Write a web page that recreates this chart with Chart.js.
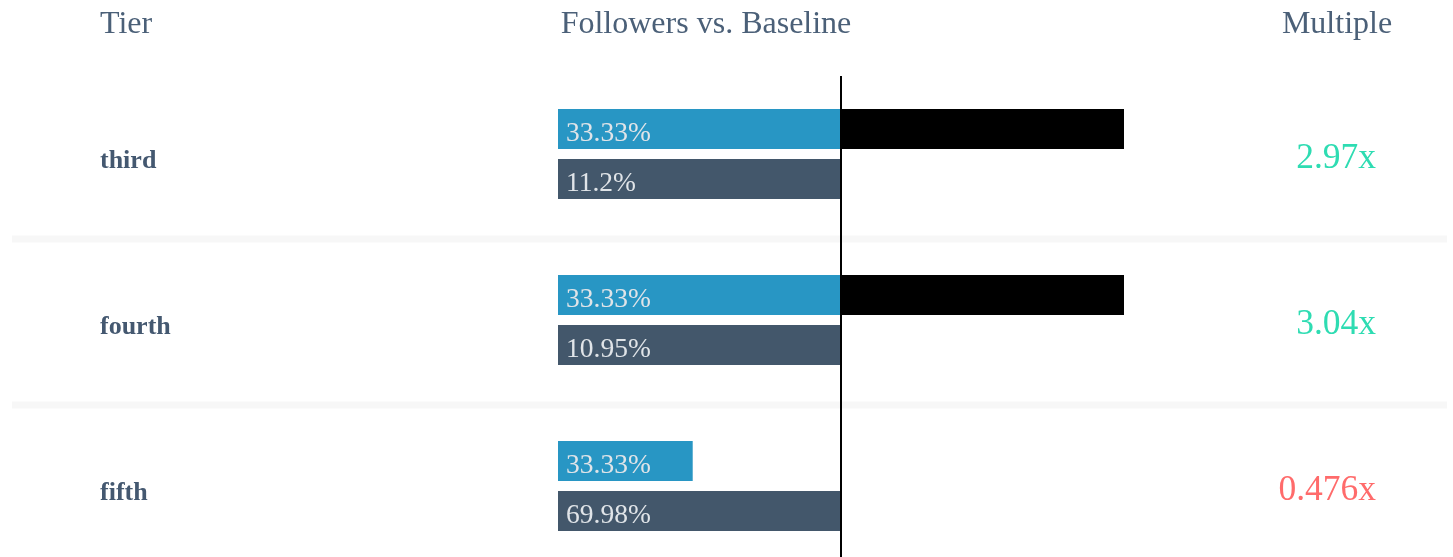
<!DOCTYPE html>
<html>
<head>
<meta charset="utf-8">
<script src="https://cdn.jsdelivr.net/npm/chart.js@4.4.1/dist/chart.umd.min.js"></script>
<style>
  html, body { margin: 0; background: #fff; overflow: hidden; }
  /* a little taller than the window: the last row runs off the bottom edge */
  #wrap { width: 1453px; height: 569px; position: relative; }
</style>
</head>
<body>
<div id="wrap"><canvas id="myChart"></canvas></div>
<script>
const tiers = ['third', 'fourth', 'fifth'];
const followerPct = ['33.33%', '33.33%', '33.33%'];
const baselinePct = ['11.2%', '10.95%', '69.98%'];
const multiples = [2.97, 3.04, 0.476];
const multipleLabels = ['2.97x', '3.04x', '0.476x'];
const headers = ['Tier', 'Followers vs. Baseline', 'Multiple'];

const SERIF = '"Liberation Serif", "Times New Roman", serif';
const CAP = 2; // bar runs out of room at 2x the baseline

// follower bar is drawn relative to the baseline (baseline = 1)
const followerBars = multiples.map(m => [0, Math.min(m, 1)]);
const overflowBars = multiples.map(m => m > 1 ? [1, Math.min(m, CAP)] : null);
const baselineBars = multiples.map(() => [0, 1]);

const textPlugin = {
  id: 'tableText',
  beforeDatasetsDraw(chart) {
    const ctx = chart.ctx, y = chart.scales.y;
    ctx.save();
    ctx.fillStyle = '#f7f7f7';
    for (let i = 0; i < tiers.length - 1; i++) {
      const mid = (y.getPixelForValue(i) + y.getPixelForValue(i + 1)) / 2 + 2;
      ctx.fillRect(12, mid - 3.5, 1435, 7);
    }
    ctx.restore();
  },
  afterDatasetsDraw(chart) {
    const ctx = chart.ctx, x = chart.scales.x, y = chart.scales.y;
    ctx.save();
    // baseline axis line
    const bx = x.getPixelForValue(1);
    ctx.strokeStyle = '#000';
    ctx.lineWidth = 2;
    ctx.beginPath();
    ctx.moveTo(bx, 76);
    ctx.lineTo(bx, chart.height);
    ctx.stroke();

    // headers
    ctx.fillStyle = '#4b6078';
    ctx.font = '32px ' + SERIF;
    ctx.textBaseline = 'alphabetic';
    ctx.textAlign = 'left';
    ctx.fillText(headers[0], 100, 33);
    ctx.textAlign = 'center';
    ctx.fillText(headers[1], 706, 33);
    ctx.fillText(headers[2], 1337, 33);

    // bar labels
    ctx.textAlign = 'left';
    ctx.font = '27.5px ' + SERIF;
    ctx.fillStyle = '#e0e4e8';
    const fMeta = chart.getDatasetMeta(0), bMeta = chart.getDatasetMeta(2);
    tiers.forEach((t, i) => {
      const fe = fMeta.data[i], be = bMeta.data[i];
      ctx.fillText(followerPct[i], Math.min(fe.x, fe.base) + 8, fe.y + 12);
      ctx.fillText(baselinePct[i], Math.min(be.x, be.base) + 8, be.y + 12);
    });

    // tier names and multiples
    tiers.forEach((t, i) => {
      const cy = y.getPixelForValue(i) + 14;
      ctx.textAlign = 'left';
      ctx.font = 'bold 26px ' + SERIF;
      ctx.fillStyle = '#445870';
      ctx.fillText(t, 100, cy);
      ctx.textAlign = 'right';
      ctx.font = '35.5px ' + SERIF;
      ctx.fillStyle = multiples[i] >= 1 ? '#2edcb2' : '#ff6b6b';
      ctx.fillText(multipleLabels[i], 1376, cy);
    });
    ctx.restore();
  }
};

const data = {
  labels: tiers,
  datasets: [
    { label: 'Followers', data: followerBars, backgroundColor: '#2896c4', stack: 'f' },
    { label: 'Overflow', data: overflowBars, backgroundColor: '#000000', stack: 'f' },
    { label: 'Baseline', data: baselineBars, backgroundColor: '#43576b', stack: 'b' }
  ]
};

const config = {
  type: 'bar',
  data: data,
  options: {
    indexAxis: 'y',
    responsive: true,
    maintainAspectRatio: false,
    animation: false,
    layout: { padding: { left: 558, right: 329, top: 71, bottom: 0 } },
    datasets: { bar: { categoryPercentage: 0.602, barPercentage: 0.8, borderWidth: 0 } },
    scales: {
      x: { display: false, min: 0, max: CAP, stacked: false },
      y: { display: false }
    },
    plugins: { legend: { display: false }, tooltip: { enabled: false } }
  },
  plugins: [textPlugin]
};

const myChart = new Chart(document.getElementById('myChart'), config);
</script>
</body>
</html>
